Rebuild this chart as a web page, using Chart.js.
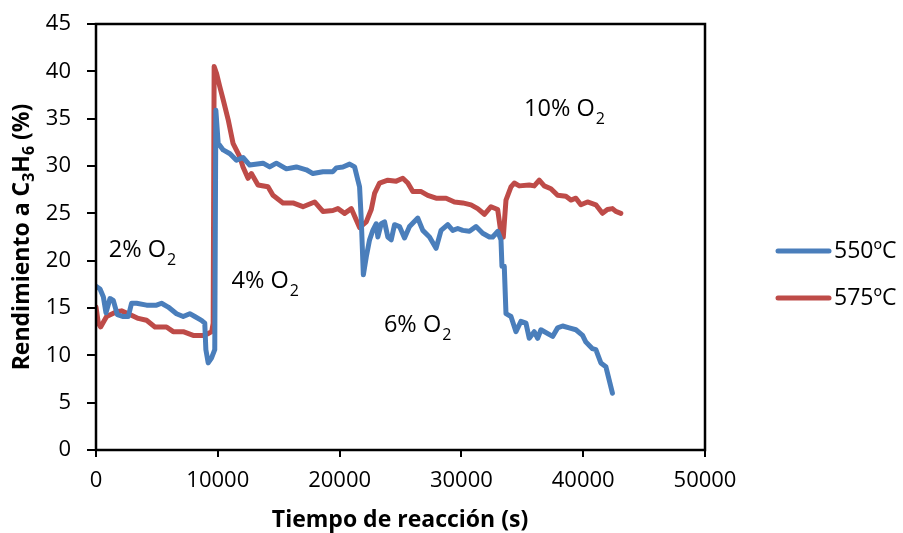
<!DOCTYPE html>
<html>
<head>
<meta charset="utf-8">
<script src="https://cdn.jsdelivr.net/npm/chart.js@4.4.0/dist/chart.umd.min.js"></script>
<style>
  html, body { margin: 0; padding: 0; background: #ffffff; }
  #wrap { width: 903px; height: 533px; position: relative; }
</style>
</head>
<body>
<div id="wrap"><canvas id="c" width="903" height="533"></canvas></div>
<script>
// ---- data ----
const seriesLabels = ['550ºC', '575ºC'];
const seriesColors = ['#4A7EBB', '#BE4B48'];

const t550 = [0, 330, 600, 820, 1150, 1420, 1750, 2240, 2650, 2920, 3330, 4150, 4970, 5380, 5930, 6610, 7160, 7700, 8110, 8660, 8930, 9020, 9210, 9480, 9750, 9840, 10030, 10440, 11000, 11530, 12070, 12620, 13710, 14260, 14810, 15630, 16450, 17270, 17810, 18630, 19450, 19730, 20270, 20820, 21230, 21500, 21640, 21780, 21950, 22190, 22460, 22730, 23010, 23140, 23420, 23690, 23960, 24240, 24510, 24920, 25330, 25740, 26420, 26830, 27380, 27920, 28330, 28880, 29290, 29700, 30110, 30660, 31200, 31750, 32300, 32570, 32980, 33250, 33330, 33520, 33660, 34070, 34480, 34890, 35300, 35570, 35980, 36260, 36530, 37490, 37900, 38310, 38850, 39400, 39950, 40220, 40760, 41040, 41450, 41860, 42130, 42400];
const y550 = [17.3, 17.0, 16.2, 14.5, 16.0, 15.8, 14.3, 14.1, 14.1, 15.5, 15.5, 15.3, 15.3, 15.5, 15.1, 14.4, 14.1, 14.4, 14.1, 13.7, 13.4, 10.6, 9.2, 9.7, 10.6, 35.9, 32.4, 31.7, 31.3, 30.6, 30.9, 30.1, 30.3, 29.9, 30.3, 29.7, 29.9, 29.6, 29.2, 29.4, 29.4, 29.8, 29.9, 30.2, 29.9, 28.5, 27.8, 24.3, 18.5, 20.4, 22.2, 23.2, 23.9, 22.5, 23.9, 24.1, 22.5, 22.2, 23.8, 23.6, 22.4, 23.6, 24.5, 23.2, 22.5, 21.3, 23.2, 23.8, 23.2, 23.4, 23.2, 23.1, 23.6, 22.9, 22.5, 22.5, 23.1, 22.2, 19.4, 19.4, 14.4, 14.1, 12.5, 13.6, 13.4, 11.8, 12.5, 11.8, 12.7, 12.0, 12.9, 13.1, 12.9, 12.7, 12.1, 11.4, 10.7, 10.6, 9.2, 8.8, 7.4, 6.0];

const t575 = [0, 190, 380, 870, 1690, 2100, 2650, 3470, 4150, 4840, 5790, 6340, 7160, 7980, 8800, 9210, 9500, 9620, 9700, 9890, 10160, 10440, 10850, 11250, 11800, 12070, 12480, 12760, 13300, 14120, 14530, 15350, 16170, 16990, 17950, 18630, 19450, 19860, 20410, 20960, 21370, 21640, 22190, 22600, 22870, 23280, 23960, 24650, 25190, 25600, 26010, 26700, 27240, 27920, 28740, 29430, 30110, 30790, 31340, 31890, 32430, 32980, 33250, 33440, 33660, 34070, 34340, 34750, 35570, 35980, 36390, 36800, 37350, 37900, 38580, 38990, 39400, 39810, 40350, 41040, 41580, 41990, 42400, 42680, 43090];
const y575 = [15.1, 13.4, 13.0, 14.1, 14.6, 14.7, 14.4, 13.9, 13.7, 13.0, 13.0, 12.5, 12.5, 12.1, 12.1, 12.3, 12.5, 13.4, 40.5, 39.8, 38.4, 37.0, 34.9, 32.4, 31.0, 29.9, 28.7, 29.2, 28.0, 27.8, 26.9, 26.1, 26.1, 25.7, 26.2, 25.2, 25.3, 25.5, 25.0, 25.5, 24.3, 23.5, 24.1, 25.4, 27.1, 28.2, 28.5, 28.4, 28.7, 28.2, 27.3, 27.3, 26.9, 26.6, 26.6, 26.2, 26.1, 25.9, 25.5, 24.9, 25.7, 25.4, 22.9, 22.5, 26.4, 27.8, 28.2, 27.9, 28.0, 27.9, 28.5, 27.9, 27.6, 26.9, 26.8, 26.4, 26.6, 25.9, 26.2, 25.9, 25.0, 25.4, 25.5, 25.2, 25.0];

const xTicks = [0, 10000, 20000, 30000, 40000, 50000];
const yTicks = [0, 5, 10, 15, 20, 25, 30, 35, 40, 45];

// annotation texts with their anchor in data units (time, value)
const noteMain = ['2% O', '4% O', '6% O', '10% O'];
const noteSub = ['2', '2', '2', '2'];
const noteX = [1050, 11120, 23640, 35140];
const noteY = [21.1, 17.8, 13.2, 36.0];

const xTitle = 'Tiempo de reacción (s)';
const yTitleParts = [['Rendimiento a C', false], ['3', true], ['H', false], ['6', true], [' (%)', false]];

// ---- build ----
const FONT = '"Open Sans", "Noto Sans", sans-serif';
function pts(ts, vs) { return ts.map((t, i) => ({ x: t, y: vs[i] })); }

const frame = {
  id: 'frame',
  afterDatasetsDraw(chart) {
    const { ctx, chartArea: a } = chart;
    ctx.save();
    ctx.strokeStyle = '#000';
    ctx.lineWidth = 2.5;
    ctx.strokeRect(a.left, a.top, a.right - a.left, a.bottom - a.top);
    ctx.restore();
  },
  afterDraw(chart) {
    const { ctx, scales } = chart;
    const xs = scales.x, ys = scales.y;
    ctx.save();
    ctx.fillStyle = '#000';
    // annotations
    for (let i = 0; i < noteMain.length; i++) {
      const px = xs.getPixelForValue(noteX[i]);
      const py = ys.getPixelForValue(noteY[i]);
      ctx.font = '23.5px ' + FONT;
      ctx.textBaseline = 'middle';
      ctx.textAlign = 'left';
      ctx.fillText(noteMain[i], px, py);
      const w = ctx.measureText(noteMain[i]).width;
      ctx.font = '16px ' + FONT;
      ctx.fillText(noteSub[i], px + w + 1, py + 10);
    }
    // x title
    ctx.font = 'bold 23px ' + FONT;
    ctx.textAlign = 'center';
    ctx.textBaseline = 'middle';
    ctx.fillText(xTitle, 400, 520);
    // y title (rotated, with subscripts)
    ctx.translate(22, 237);
    ctx.rotate(-Math.PI / 2);
    const big = 'bold 23px ' + FONT, small = 'bold 16px ' + FONT;
    let total = 0;
    for (const [s, sub] of yTitleParts) { ctx.font = sub ? small : big; total += ctx.measureText(s).width; }
    let cx = -total / 2;
    ctx.textAlign = 'left';
    for (const [s, sub] of yTitleParts) {
      ctx.font = sub ? small : big;
      ctx.fillText(s, cx, sub ? 7 : 0);
      cx += ctx.measureText(s).width;
    }
    ctx.restore();
    // legend
    ctx.save();
    const legY = [251, 298];
    chart.data.datasets.forEach((ds, i) => {
      ctx.strokeStyle = ds.borderColor;
      ctx.lineWidth = 5;
      ctx.lineCap = 'round';
      ctx.beginPath();
      ctx.moveTo(778, legY[i]);
      ctx.lineTo(829, legY[i]);
      ctx.stroke();
      ctx.fillStyle = '#000';
      ctx.font = '23px ' + FONT;
      ctx.textAlign = 'left';
      ctx.textBaseline = 'middle';
      ctx.fillText(ds.label, 834, legY[i]);
    });
    ctx.restore();
  }
};

new Chart(document.getElementById('c'), {
  type: 'line',
  data: {
    datasets: [
      { label: seriesLabels[0], data: pts(t550, y550), borderColor: seriesColors[0] },
      { label: seriesLabels[1], data: pts(t575, y575), borderColor: seriesColors[1] }
    ]
  },
  options: {
    responsive: false,
    animation: false,
    devicePixelRatio: 1,
    layout: { padding: { top: 24, right: 198, left: 0, bottom: 0 } },
    elements: {
      line: { borderWidth: 5, tension: 0, borderJoinStyle: 'round', borderCapStyle: 'round', fill: false },
      point: { radius: 0 }
    },
    plugins: { legend: { display: false }, tooltip: { enabled: false } },
    scales: {
      x: {
        type: 'linear', min: 0, max: 50000,
        afterBuildTicks(s) { s.ticks = xTicks.map(v => ({ value: v })); },
        afterFit(s) { s.height = 83; s.paddingLeft = 0; s.paddingRight = 0; },
        ticks: { color: '#000', font: { family: FONT, size: 22 }, padding: 11, maxRotation: 0, autoSkip: false, callback: v => String(v) },
        grid: { display: true, drawOnChartArea: false, drawTicks: true, tickLength: 7, color: '#000', lineWidth: 2 },
        border: { display: false },
        title: { display: false }
      },
      y: {
        type: 'linear', min: 0, max: 45,
        afterBuildTicks(s) { s.ticks = yTicks.map(v => ({ value: v })); },
        afterFit(s) { s.width = 96; s.paddingTop = 0; s.paddingBottom = 0; },
        ticks: { color: '#000', font: { family: FONT, size: 22 }, padding: 16, autoSkip: false, callback: v => String(v) },
        grid: { display: true, drawOnChartArea: false, drawTicks: true, tickLength: 9, color: '#000', lineWidth: 2 },
        border: { display: false },
        title: { display: false }
      }
    }
  },
  plugins: [frame]
});
</script>
</body>
</html>
